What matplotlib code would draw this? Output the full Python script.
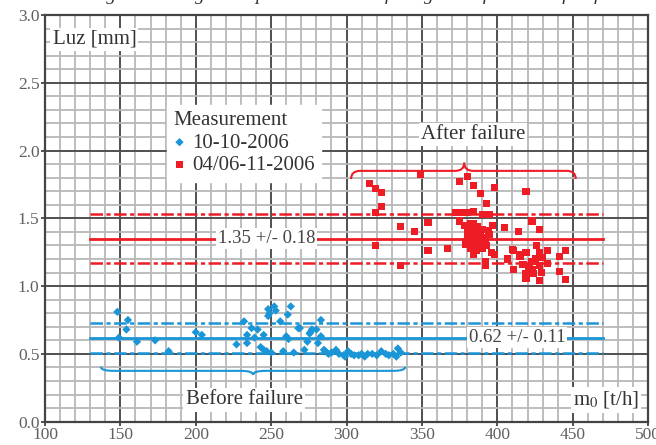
import numpy as np
import matplotlib
matplotlib.use('Agg')
import matplotlib.pyplot as plt
from matplotlib.path import Path
from matplotlib.patches import PathPatch

# общий шрифт - засечки, как в оригинале
plt.rc('font', family=['Liberation Serif', 'DejaVu Serif'], size=15)
plt.rc('mathtext', fontset='stix')
plt.rc('lines', scale_dashes=False)

# данные: 10-10-2006 (до поломки)
before_x = [148, 149, 155, 154, 161, 173, 182, 200, 204, 227, 232, 234, 234, 237, 239,
            241, 243, 245, 245, 248, 248, 249, 252, 253, 256, 258, 260, 261, 261.5, 263,
            269, 272, 274, 275.5, 277, 280, 281, 283, 283, 285, 268, 276, 247, 250, 265,
            286, 288, 290, 293, 295, 298, 299, 301, 303, 305, 308, 310, 312, 314, 317,
            320, 323, 326, 328, 331, 333, 334, 336]
before_y = [0.81, 0.62, 0.75, 0.68, 0.59, 0.60, 0.52, 0.66, 0.64, 0.57, 0.74, 0.64, 0.58, 0.69, 0.62,
            0.68, 0.55, 0.64, 0.53, 0.83, 0.78, 0.80, 0.85, 0.82, 0.74, 0.52, 0.63, 0.79, 0.61, 0.85,
            0.69, 0.53, 0.59, 0.65, 0.68, 0.68, 0.58, 0.75, 0.63, 0.53, 0.69, 0.66, 0.52, 0.51, 0.51,
            0.52, 0.50, 0.51, 0.53, 0.50, 0.49, 0.48, 0.52, 0.50, 0.49, 0.49, 0.50, 0.48, 0.50, 0.50,
            0.49, 0.52, 0.50, 0.49, 0.50, 0.48, 0.54, 0.51]

# данные: 04/06-11-2006 (после поломки)
after_x = [315, 319, 323, 323, 319, 349, 375, 380, 384, 389, 398, 393, 419,
           336, 345, 354, 319, 354, 367, 336, 372, 384, 375,
           376, 380, 390, 395,
           378, 380, 381, 382, 383, 384, 385, 386, 387, 388, 389, 390, 391, 379, 382, 384,
           386, 388, 390, 383, 385, 387, 381, 389, 380, 392, 393, 394, 395, 386, 384, 392,
           396, 397, 405, 414, 410, 415, 423, 428,
           398, 411, 415, 419, 407, 411, 419, 419, 423, 423, 428, 428, 428, 433, 433, 441,
           445, 441, 445, 425, 430, 417, 421, 392, 426, 429, 424,
           379, 381, 383, 385, 387, 389, 382, 386, 388, 384]
after_y = [1.76, 1.72, 1.69, 1.59, 1.54, 1.82, 1.77, 1.81, 1.74, 1.68, 1.73, 1.61, 1.70,
           1.44, 1.40, 1.47, 1.30, 1.26, 1.28, 1.15, 1.54, 1.55, 1.48,
           1.54, 1.54, 1.53, 1.53,
           1.45, 1.42, 1.38, 1.35, 1.32, 1.40, 1.36, 1.30, 1.44, 1.34, 1.38, 1.28, 1.36, 1.33, 1.28, 1.46,
           1.41, 1.31, 1.42, 1.37, 1.33, 1.39, 1.43, 1.35, 1.37, 1.33, 1.30, 1.41, 1.38, 1.26, 1.23, 1.15,
           1.25, 1.45, 1.43, 1.40, 1.27, 1.23, 1.48, 1.42,
           1.23, 1.26, 1.22, 1.25, 1.20, 1.12, 1.09, 1.06, 1.18, 1.12, 1.25, 1.15, 1.04, 1.26, 1.17, 1.22,
           1.26, 1.11, 1.05, 1.20, 1.21, 1.16, 1.14, 1.18, 1.30, 1.10, 1.09,
           1.31, 1.35, 1.41, 1.29, 1.33, 1.40, 1.46, 1.38, 1.36, 1.32]

# средние и разброс
before_mean, before_dev = 0.62, 0.11
after_mean, after_dev = 1.35, 0.18
band_x = [130, 470]

blue = '#1a96d8'
red = '#ee1c25'
grey = '#444444'

fig = plt.figure(figsize=(6.56, 4.45), dpi=100)
ax = fig.add_axes([0.0686, 0.0524, 0.9194, 0.914])

# сетка как на миллиметровке
ax.set_xlim(100, 500)
ax.set_ylim(0, 3.0)
ax.set_xticks(np.arange(100, 501, 50))
ax.set_yticks(np.arange(0, 3.01, 0.5))
ax.set_xticks(np.arange(100, 501, 10), minor=True)
ax.set_yticks(np.arange(0, 3.01, 0.1), minor=True)
ax.grid(which='minor', color='#b8b8b8', lw=1.3, zorder=0)
ax.grid(which='major', color='#505050', lw=1.4, zorder=0)
ax.set_axisbelow(True)
ax.yaxis.set_major_formatter(plt.FormatStrFormatter('%.1f'))
ax.tick_params(which='major', direction='out', length=3, width=1.3, color=grey,
               labelsize=12.5, labelcolor='#606060', pad=1)
ax.tick_params(which='minor', length=0)
for s in ax.spines.values():
    s.set_color(grey)
    s.set_linewidth(1.6)

dashdot = (0, (9, 2.5, 3, 2.5))

# полосы среднего +/- отклонение
for m, d, c in [(after_mean, after_dev, red), (before_mean, before_dev, blue)]:
    ax.plot(band_x, [m, m], color=c, lw=2.0, zorder=2)
    ax.plot(band_x, [m + d, m + d], color=c, lw=1.8, ls=dashdot, zorder=2)
    ax.plot(band_x, [m - d, m - d], color=c, lw=1.8, ls=dashdot, zorder=2)

bbox = dict(facecolor='white', edgecolor='none', pad=1.5)
ax.text(247, after_mean, f'{after_mean:.2f} +/- {after_dev:.2f}', ha='center', va='center',
        fontsize=13.5, color='#444444', bbox=bbox, zorder=3)
ax.text(413, before_mean, f'{before_mean:.2f} +/- {before_dev:.2f}', ha='center', va='center',
        fontsize=13.5, color='#444444', bbox=bbox, zorder=3)

# точки измерений
sc_b = ax.scatter(before_x, before_y, marker='D', s=18, color=blue, edgecolors='none', zorder=4)
sc_r = ax.scatter(after_x, after_y, marker='s', s=26, color=red, edgecolors='none', zorder=4)


def brace(x0, x1, xm, y, h, color):
    # фигурная скобка: концы загнуты на -h, острие на +h
    d = (x1 - x0) * 0.04
    verts = [(x0, y - h), (x0, y), (x0 + d, y),
             (xm - d, y), (xm, y), (xm, y + h),
             (xm, y), (xm + d, y),
             (x1 - d, y), (x1, y), (x1, y - h)]
    codes = [Path.MOVETO, Path.CURVE3, Path.CURVE3,
             Path.LINETO, Path.CURVE3, Path.CURVE3,
             Path.CURVE3, Path.CURVE3,
             Path.LINETO, Path.CURVE3, Path.CURVE3]
    ax.add_patch(PathPatch(Path(verts, codes), fc='none', ec=color, lw=1.5, zorder=3))


brace(303, 452, 378, 1.85, 0.06, red)
brace(137, 339, 238, 0.375, -0.03, blue)

ax.text(384, 2.12, 'After failure', ha='center', va='center', color='#333333', bbox=bbox, zorder=5)
ax.text(232, 0.16, 'Before failure', ha='center', va='center', color='#333333', bbox=bbox, zorder=5)

# подписи осей внутри поля графика
ax.text(105, 2.82, 'Luz [mm]', ha='left', va='center', color='#333333', bbox=bbox, zorder=5)
ax.text(494, 0.16, 'm$_0$ [t/h]', ha='right', va='center', color='#333333', bbox=bbox, zorder=5)

# легенда
leg = ax.legend([sc_b, sc_r], ['10-10-2006', '04/06-11-2006'], title='Measurement',
                loc='upper left', bbox_to_anchor=(0.185, 0.805), frameon=True, fancybox=False,
                handlelength=0.6, handletextpad=0.3, borderpad=0.3, labelspacing=0.15,
                alignment='left', fontsize=15, title_fontsize=15, labelcolor='#333333')
leg.get_frame().set_edgecolor('white')
leg.get_frame().set_alpha(1)
leg.get_title().set_color('#333333')
leg.set_zorder(6)

# обрезанная подпись рисунка сверху
fig.text(0.56, 1.012, 'Figure 7. Diagnostic parameter Luz of the gear before and after failure',
         ha='center', va='center', style='italic', fontsize=14, color='#333333')

fig.savefig('out.png', dpi=100)
